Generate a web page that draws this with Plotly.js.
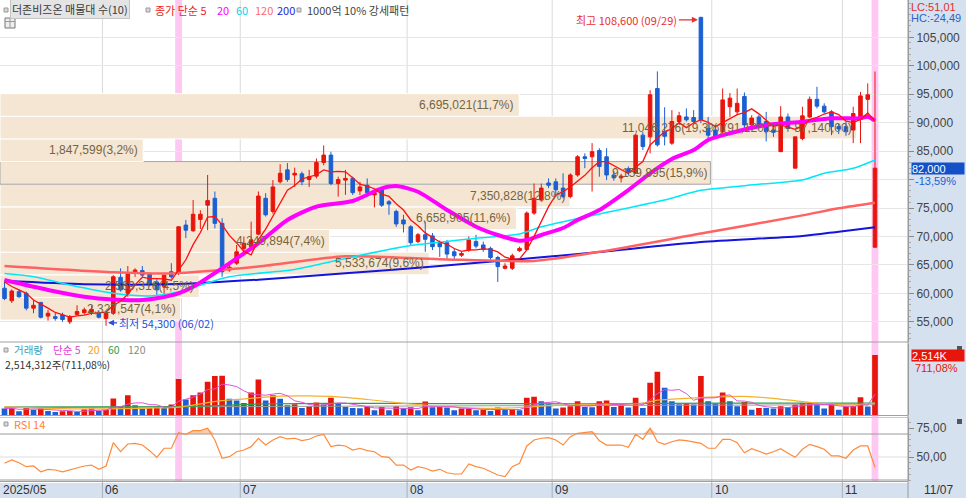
<!DOCTYPE html>
<html><head><meta charset="utf-8">
<script src="https://cdn.plot.ly/plotly-3.0.1.min.js"></script>
<style>html,body{margin:0;padding:0;background:#fff;}#chart{width:966px;height:498px;}</style>
</head><body><div id="chart"></div>
<script>
// ---------- DATA ----------
const dates = [
"05/13","05/14","05/15","05/16","05/19","05/20","05/21","05/22","05/23","05/26","05/27","05/28","05/29","05/30",
"06/02","06/04","06/05","06/09","06/10","06/11","06/12","06/13","06/16","06/17","06/18","06/19","06/20","06/23","06/24","06/25","06/26","06/27","06/30",
"07/01","07/02","07/03","07/04","07/07","07/08","07/09","07/10","07/11","07/14","07/15","07/16","07/17","07/18","07/21","07/22","07/23","07/24","07/25","07/28","07/29","07/30","07/31",
"08/01","08/04","08/05","08/06","08/07","08/08","08/11","08/12","08/13","08/14","08/18","08/19","08/20","08/21","08/22","08/25","08/26","08/27","08/28","08/29",
"09/01","09/02","09/03","09/04","09/05","09/08","09/09","09/10","09/11","09/12","09/15","09/16","09/17","09/18","09/19","09/22","09/23","09/24","09/25","09/26","09/29","09/30",
"10/01","10/02","10/10","10/13","10/14","10/15","10/16","10/17","10/20","10/21","10/22","10/23","10/24","10/27","10/28","10/29","10/30","10/31",
"11/03","11/04","11/05","11/06","11/07"];

const openP = [60900,58700,60300,60000,57400,58400,56000,55900,56200,55000,
56300,56600,56700,56500,55600,56500,62800,60000,63500,64000,
63400,62000,61200,63800,63500,72000,71000,73000,75500,76700,
72300,64100,65300,67900,68200,70400,76700,74400,79600,81700,
80800,81000,80000,80600,83000,84300,79300,79900,80200,78000,
79000,77300,78200,76100,74400,72900,71700,69100,70300,70100,
68800,68900,67300,66700,67600,69100,68500,67900,66300,64400,
64400,67500,67700,74100,76400,79400,79600,78500,77000,80800,
84000,84000,85100,84000,80800,80300,81900,81100,87800,87500,
96000,88400,86400,90200,91000,90900,108500,89000,88700,88400,
92800,91900,94600,89600,91000,90200,88700,84900,91000,82000,
87200,91000,94100,92900,91900,89300,89300,88700,91000,94100,
68100];
const highP = [62000,60700,60700,60300,58800,58500,57100,56600,56600,56200,
57900,57500,57900,57000,56600,63200,64400,64800,64400,64800,
63600,62500,63500,65300,71800,72900,76400,74600,80800,77900,
73200,65300,68500,70000,72600,77900,77600,79900,82700,82900,
82100,81400,81700,83700,86000,84900,80500,81700,80500,79600,
80200,78200,78500,76400,74700,73800,72000,70600,72600,70600,
69300,69400,67900,67300,70000,70300,69100,68200,66600,65300,
67000,68200,74400,79300,79300,80200,80200,81100,81100,84300,
84600,86400,85500,85500,81500,81000,82300,88100,88400,95700,
99000,92700,92200,91900,92500,92200,108600,91000,89600,96000,
95200,96000,95300,91300,91400,91900,89500,92900,91600,87500,
92800,94600,96300,93400,92200,89800,90200,92800,95400,96900,
99000];
const lowP = [58800,58300,59200,57000,56500,55600,55200,55200,55000,54600,
56100,56300,56200,55600,54300,56200,60300,59400,62900,62900,
61200,59400,59700,62600,63200,69700,70800,71300,71100,71400,
62900,63800,65000,67300,67600,70200,73500,74000,79300,79600,
78700,79000,78700,80200,82500,79000,77000,77300,77300,77300,
77000,75100,75200,73800,71700,70700,68500,68800,67300,67600,
66400,66100,65900,66400,67300,67900,67300,65900,62000,64200,
64100,67300,67600,73800,76100,78500,77000,76700,76700,80500,
82000,77900,80500,79900,79800,79500,80700,81100,85200,84600,
85800,86000,86100,89900,90200,89900,89900,87200,87200,88100,
91000,91300,89000,89000,89000,86700,87500,84900,88400,82000,
86900,90800,92500,91600,87800,88000,87700,86400,86400,91000,
68100];
const closeP = [59100,60400,59400,57400,57900,55800,56500,55600,55400,55900,
56800,57100,57200,55800,56500,62900,60600,63400,64100,63200,
61600,60600,63200,62900,71700,71100,73900,73900,76300,72300,
63800,64600,67300,68800,69400,77100,73800,78700,81100,80000,
81100,79600,80500,83000,84300,79300,80000,80200,77700,78700,
77700,77600,75500,75700,72200,72200,68900,70300,69500,68200,
68200,66900,66600,67000,69400,68300,67700,66300,64700,64800,
66600,67900,74100,76700,78500,79000,78200,77000,80800,84000,
83700,84900,82300,80800,80300,80600,81300,87800,85800,94900,
86100,87600,90200,91200,90500,90200,90500,87800,87500,94000,
94300,93400,89600,90800,89600,88400,88300,91000,89000,87500,
91200,94100,92900,91900,89300,88900,88400,91600,94700,94900,
82000];
const volume = [268000,296000,155000,296000,225000,268000,169000,127000,155000,169000,
127000,239000,268000,183000,225000,690000,366000,831000,408000,268000,
296000,338000,310000,436000,1507000,648000,831000,943000,1394000,1633000,
1647000,676000,605000,507000,943000,1492000,605000,831000,676000,408000,
451000,296000,366000,521000,436000,718000,479000,338000,296000,282000,
366000,197000,338000,197000,366000,282000,324000,197000,563000,324000,
338000,310000,197000,268000,282000,197000,225000,169000,310000,225000,
239000,197000,718000,760000,577000,451000,268000,310000,366000,577000,
338000,324000,577000,605000,338000,479000,310000,718000,296000,1352000,
1816000,1140000,577000,451000,479000,436000,1633000,577000,479000,943000,
577000,366000,549000,225000,296000,290000,268000,366000,338000,436000,
507000,521000,465000,268000,436000,225000,366000,380000,746000,353590,
2514312];
const rsi = [44.5,47.4,45,41.6,42.2,37.2,39.3,38.7,37,38.7,
40.2,42.2,43,39.3,42.2,62.4,54.6,61.3,61.9,60.4,
55.5,49.7,57.6,57.6,71.1,69.7,72.9,72.9,75,64.8,
48.9,50.3,54.6,56.1,59,66.3,60.4,64.8,67.7,65.7,
66.3,64.2,65.4,68.3,69.7,59,60.4,59.6,56.1,57.6,
55.5,54.6,50.3,49.7,43,43,38.7,41.6,40.2,37.8,
39.3,36.3,35.2,35.2,43.9,41.6,40.2,37.2,34.3,32.9,
41.6,44.5,59.6,64.8,66.3,66.8,64.8,60.4,67.7,70.6,
71.1,72,64.2,60.4,60.4,60.4,58.4,69.7,65.4,75,
63.3,61,63.3,64.8,64.2,63.3,61.9,57.6,57.6,65.4,
65.4,62.4,53.7,57.2,54.6,52.6,54.6,57.2,53.2,49.7,
56.7,61,59,56.7,50.9,50.9,48.9,56.1,59.6,59.6,
41];

const ma5Head = [62000,61200,60600,60000];
const ma20Idx = [0,6,11,15,19,21,24,26,31,35,39,43,48,52,54,57,61,65,68,71,72,74,77,79,82,86,89,92,95,97,100,105,110,114,118,119,120];
const ma20Val = [62350,60600,59410,58920,58830,59130,60010,61170,65280,68800,72890,75230,76230,78460,78870,77860,74650,71710,70250,69250,69370,70250,71480,72890,74650,78160,81100,83610,85190,86950,88130,89590,90170,90760,90760,91050,90340];
const ma60Idx = [0,4,9,15,20,24,31,40,46,55,65,71,74,82,91,96,104,110,113,117,120];
const ma60Val = [63500,62930,61470,60010,59540,60290,62900,64200,65860,68200,69670,70430,71710,73950,76400,78100,79160,79920,81100,81970,83440];
const ma120Idx = [0,15,23,35,47,60,73,82,96,110,115,120];
const ma120Val = [64800,63700,63500,64700,66500,66000,65700,67300,70500,73700,74950,75930];
const ma200Idx = [0,11,24,35,47,60,74,82,96,110,115,120];
const ma200Val = [62200,61600,61640,62400,63520,64800,66330,67270,69020,70080,70840,71610];
const vma20Idx = [0,8,14,20,24,28,30,34,38,42,46,50,54,57,60,64,68,72,76,80,84,88,90,94,98,102,106,110,114,117,120];
const vma20Val = [340,270,255,290,330,520,600,700,790,800,760,650,520,440,360,300,280,330,400,430,450,500,620,700,760,780,700,560,450,420,500];
const vma60Idx = [0,20,28,35,45,60,80,100,120];
const vma60Val = [330,340,380,460,490,480,470,500,500];
const vma120Idx = [0,60,120];
const vma120Val = [320,380,430];

// volume-by-price bands (bottom to top)
const bandLow = 55300, bandStep = 3980;
const bandVol = [2327547,2569316,5533674,4249894,6658905,7350828,9159895,1847599,11046276,6695021];
const bandPct = ["4,1","4,5","9,6","7,4","11,6","12,8","15,9","3,2","19,3","11,7"];
const highlightDates = ["06/18","11/07"];

// ---------- BUILD ----------
const N = closeP.length;
const X = closeP.map((_, i) => i);
const xMin = -0.62, xMax = 124.55;
const fmt = n => Math.round(n).toLocaleString('en-US');
const dec = v => v.toFixed(2).replace('.', ',');
const PX = 908, PY = 482;
const px = xp => xp / PX;
const py = yp => (PY - yp) / PY;

const ma5 = closeP.map((c, i) => i < 4 ? ma5Head[i] : closeP.slice(i-4, i+1).reduce((a,b)=>a+b,0)/5);
const vma5 = volume.map((v, i) => { const s = volume.slice(Math.max(0,i-4), i+1); return s.reduce((a,b)=>a+b,0)/s.length; });
const volColor = volume.map((v, i) => (i > 0 && v > volume[i-1]) ? '#e8150c' : '#1b5fd2');

const RED = '#e8150c', BLUE = '#1b5fd2';
const NARROW = 'Liberation Sans Narrow, Liberation Sans, Arial';
const KR = 'Noto Sans CJK KR, Noto Sans, sans-serif';

const line = (xs, ys, color, width, yaxis, shape) => ({
  type:'scatter', mode:'lines', x:xs, y:ys, yaxis:yaxis||'y', hoverinfo:'skip',
  line:{color:color, width:width, shape:shape||'spline', smoothing:0.7}
});

const traces = [
  line(ma200Idx, ma200Val, '#1414dc', 2),
  line(ma120Idx, ma120Val, '#ff6262', 2.5),
  line(ma60Idx, ma60Val, '#00e8f8', 1.5),
  line(ma20Idx, ma20Val, '#ff00ff', 4),
  line(X, ma5, '#ff1010', 1.3, 'y', 'linear'),
  {type:'candlestick', x:X, open:openP, high:highP, low:lowP, close:closeP, xaxis:'x', yaxis:'y',
   increasing:{line:{color:RED, width:1}, fillcolor:RED},
   decreasing:{line:{color:BLUE, width:1}, fillcolor:BLUE},
   whiskerwidth:0, hoverinfo:'skip'},
  {type:'bar', x:X, y:volume, yaxis:'y2', marker:{color:volColor, line:{width:0}}, width:0.78, hoverinfo:'skip'},
  line(vma120Idx, vma120Val.map(v=>v*1000), '#999999', 1, 'y2'),
  line(vma60Idx, vma60Val.map(v=>v*1000), '#2ca04c', 1.2, 'y2'),
  line(vma20Idx, vma20Val.map(v=>v*1000), '#f5b030', 1.2, 'y2'),
  line(X, vma5, '#e050d8', 1, 'y2', 'linear'),
  {type:'scatter', mode:'lines', x:X, y:X.map(()=>70), yaxis:'y3', line:{width:0}, hoverinfo:'skip'},
  {type:'scatter', mode:'lines', x:X, y:rsi.map(v=>Math.max(v,70)), yaxis:'y3', fill:'tonexty', fillcolor:'rgba(255,140,60,0.45)', line:{width:0}, hoverinfo:'skip'},
  {type:'scatter', mode:'lines', x:X, y:rsi, yaxis:'y3', line:{color:'#ff8a3c', width:1.2}, hoverinfo:'skip'}
];

const shapes = [];
shapes.push({type:'rect', xref:'paper', yref:'paper', x0:1, x1:1+58/PX, y0:-16/PY, y1:1, fillcolor:'#d5e1ef', line:{width:0}, layer:'below'});
shapes.push({type:'rect', xref:'paper', yref:'paper', x0:0, x1:1, y0:-16/PY, y1:-1/PY, fillcolor:'#d5e1ef', line:{width:0}, layer:'below'});
highlightDates.forEach(d => { const i = dates.indexOf(d);
  shapes.push({type:'rect', xref:'x', yref:'paper', x0:i-0.47, x1:i+0.47, y0:0, y1:1, fillcolor:'#ffc8f2', line:{width:0}, layer:'below'}); });
const monthStarts = [];
dates.forEach((d, i) => { if (i === 0 || d.slice(0,2) !== dates[i-1].slice(0,2)) monthStarts.push(i); });
monthStarts.slice(1).forEach(i => {
  shapes.push({type:'line', xref:'x', yref:'paper', x0:i-0.5, x1:i-0.5, y0:0, y1:1, line:{color:'#dadada', width:1}, layer:'below'});
  shapes.push({type:'line', xref:'x', yref:'paper', x0:i-0.5, x1:i-0.5, y0:-16/PY, y1:0, line:{color:'#a8b0b8', width:1}, layer:'above'});
});
const maxBand = Math.max(...bandVol);
const lastClose = closeP[N-1];
const annotations = [];
bandVol.forEach((v, k) => {
  const y0 = bandLow + k*bandStep, y1 = y0 + bandStep;
  const x1 = xMin + v/maxBand*118.1;
  const cur = lastClose >= y0 && lastClose < y1;
  shapes.push({type:'rect', xref:'x', yref:'y', x0:xMin, x1:x1, y0:y0, y1:y1, fillcolor:'#f5e6d3',
    line:{color: cur ? '#a5a5a5' : '#ffffff', width:1}, layer:'between'});
  let txt = fmt(v) + '(' + bandPct[k] + '%)';
  if (v === maxBand) txt += '(' + fmt(y1) + ',00 ~ ' + fmt(y0) + ',00)';
  annotations.push({xref:'x', yref:'y', x:x1, y:(y0+y1)/2, xanchor:'right', yanchor:'middle', xshift: cur ? -1 : -3,
    text:txt, showarrow:false, font:{family:'Liberation Sans, Arial', size:12, color:'#76643e'}});
});
[[342,'#a0a0a0'],[415.5,'#a0a0a0'],[417.5,'#c8c8c8'],[481.5,'#a0a0a0']].forEach(([yp,c]) =>
  shapes.push({type:'line', xref:'paper', yref:'paper', x0:0, x1:1, y0:py(yp), y1:py(yp), line:{color:c, width:1}, layer:'above'}));
shapes.push({type:'line', xref:'paper', yref:'paper', x0:1, x1:1, y0:-16/PY, y1:1, line:{color:'#9a9a9a', width:1}, layer:'above'});
shapes.push({type:'line', xref:'paper', yref:'y3', x0:0, x1:1, y0:50, y1:50, line:{color:'#dddddd', width:1}, layer:'below'});
[70,30].forEach(v => shapes.push({type:'line', xref:'paper', yref:'y3', x0:0, x1:1, y0:v, y1:v, line:{color:'#9a9a9a', width:1}, layer:'below'}));
const sq = (xp, yp, fill) => shapes.push({type:'rect', xref:'paper', yref:'paper', x0:px(xp), x1:px(xp+4), y0:py(yp+2), y1:py(yp-2), fillcolor:fill||'#d8d8d8', line:{color:'#9a9a9a', width:1}, layer:'above'});
sq(4,10); sq(146,10); sq(297,10); sq(4,350); sq(4,424);
shapes.push({type:'rect', xref:'paper', yref:'paper', x0:px(5), x1:px(15), y0:py(28), y1:py(18), fillcolor:'#eeeeee', line:{color:'#777', width:1}, layer:'above'});
shapes.push({type:'line', xref:'paper', yref:'paper', x0:px(5), x1:px(15), y0:py(21.5), y1:py(21.5), line:{color:'#999', width:1}});
shapes.push({type:'line', xref:'paper', yref:'paper', x0:px(10), x1:px(10), y0:py(28), y1:py(18), line:{color:'#999', width:1}});
[[957,348],[957,421]].forEach(([xp,yp]) => shapes.push({type:'rect', xref:'paper', yref:'paper', x0:px(xp), x1:px(xp+5), y0:py(yp+3), y1:py(yp-2), fillcolor:'#555', line:{width:0}, layer:'above'}));

const ann = (xp, yp, text, color, size, family, extra) => annotations.push(Object.assign({xref:'paper', yref:'paper', x:px(xp), y:py(yp), xanchor:'left', yanchor:'middle', text:text, showarrow:false, font:{family:family||KR, size:size||11, color:color}}, extra||{}));
ann(10, 9, '더존비즈온 매물대 수(10)', '#3a3a3a', 11, KR, {bgcolor:'#e4e4e4', bordercolor:'#c4c4c4', borderwidth:1, borderpad:1});
ann(153, 10, '종가 단순 5', '#f01c1c');
ann(215, 10, '20', '#ff00ff');
ann(234, 10, '60', '#00d8ea');
ann(253, 10, '120', '#ff6a6a');
ann(275, 10, '200', '#2424e0');
ann(305, 10, '1000억 10% 강세패턴', '#444444');
ann(12, 349.5, '거래량', '#3aa0b8', 10.5);
ann(51, 349.5, '단순 5', '#e040d0', 10.5);
ann(86, 349.5, '20', '#f0a020', 10.5);
ann(106, 349.5, '60', '#2ca04c', 10.5);
ann(126, 349.5, '120', '#8a8a8a', 10.5);
ann(3, 364.5, '2,514,312주(711,08%)', '#333333', 10.5);
ann(12, 424, 'RSI 14', '#ff8030');

const minLow = Math.min(...lowP), maxHigh = Math.max(...highP);
const iLow = lowP.indexOf(minLow), iHigh = highP.indexOf(maxHigh);
const prevClose = closeP[N-2];
ann(909, 7, 'LC:' + dec((lastClose/minLow - 1)*100), '#e03030', 11, NARROW);
ann(909, 18, 'HC:' + dec((lastClose/maxHigh - 1)*100), '#2a62c8', 11, NARROW);
annotations.push({xref:'paper', yref:'y', x:1+3/PX, y:lastClose, xanchor:'left', yanchor:'middle', text:fmt(lastClose), showarrow:false,
  bgcolor:'#1450c8', width:52, height:11, align:'left', borderpad:0, font:{family:NARROW, size:11, color:'#ffffff'}});
annotations.push({xref:'paper', yref:'y', x:1+5/PX, y:lastClose, yshift:-13, xanchor:'left', yanchor:'middle', showarrow:false,
  text:dec((lastClose/prevClose - 1)*100) + '%', font:{family:NARROW, size:11, color:'#1a5fd0'}});
const lastVol = volume[N-1], prevVol = volume[N-2];
annotations.push({xref:'paper', yref:'y2', x:1+3/PX, y:lastVol, xanchor:'left', yanchor:'middle', text:fmt(lastVol/1000)+'K', showarrow:false,
  bgcolor:'#e8150c', width:52, height:11, align:'left', borderpad:0, font:{family:NARROW, size:11, color:'#ffffff'}});
annotations.push({xref:'paper', yref:'y2', x:1+5/PX, y:lastVol, yshift:-13, xanchor:'left', yanchor:'middle', showarrow:false,
  text:dec(lastVol/prevVol*100) + '%', font:{family:NARROW, size:11, color:'#e8150c'}});
annotations.push({xref:'x', yref:'y', x:iHigh, y:maxHigh, yshift:-3, text:'최고 ' + fmt(maxHigh) + ' (' + dates[iHigh] + ')',
  showarrow:true, ax:-74, ay:0, arrowhead:2, arrowsize:1, arrowwidth:1.2, arrowcolor:'#e83030', standoff:3,
  font:{family:KR, size:11, color:'#e83030'}});
annotations.push({xref:'x', yref:'y', x:iLow, y:minLow, yshift:3, text:'최저 ' + fmt(minLow) + ' (' + dates[iLow] + ')',
  showarrow:true, ax:60, ay:0, arrowhead:2, arrowsize:1, arrowwidth:1.2, arrowcolor:'#2a4fd8', standoff:2,
  font:{family:KR, size:11, color:'#2a4fd8'}});
monthStarts.forEach((i, k) => annotations.push({xref:'x', yref:'paper', x: k === 0 ? xMin : i-0.5, y:py(490), xanchor:'left', yanchor:'middle', xshift:1,
  text: k === 0 ? '2025/' + dates[i].slice(0,2) : dates[i].slice(0,2), showarrow:false, font:{family:NARROW, size:12, color:'#333'}}));
ann(922, 490, dates[N-1], '#333333', 12, NARROW);

const priceTicks = [55000,60000,65000,70000,75000,80000,85000,90000,95000,100000,105000];
const layout = {
  width:966, height:498, margin:{l:0, r:58, t:0, b:16, pad:0},
  paper_bgcolor:'#ffffff', plot_bgcolor:'#ffffff', showlegend:false, hovermode:false, dragmode:false,
  font:{family:KR, size:11, color:'#333'},
  xaxis:{range:[xMin,xMax], showgrid:false, zeroline:false, showticklabels:false, ticks:'', showline:false,
         rangeslider:{visible:false}, fixedrange:true, anchor:'y3'},
  yaxis:{domain:[py(341.5), 1], range:[51537, 111555], side:'right', anchor:'x',
         tickmode:'array', tickvals:priceTicks, ticktext:priceTicks.map(v => v === 80000 ? '' : fmt(v)),
         ticks:'outside', ticklen:5, tickcolor:'#888', tickfont:{family:NARROW, size:12, color:'#444'},
         showgrid:true, gridcolor:'#e6e6e6', zeroline:false, showline:true, linecolor:'#9a9a9a', fixedrange:true,
         minor:{tickmode:'linear', tick0:0, dtick:1000, ticks:'outside', ticklen:2, tickcolor:'#aaa', showgrid:false}},
  yaxis2:{domain:[py(415), py(343.5)], range:[0, 2996000], side:'right', anchor:'x', showticklabels:false, ticks:'',
          showgrid:false, zeroline:false, showline:true, linecolor:'#9a9a9a', fixedrange:true},
  yaxis3:{domain:[py(481), py(417.5)], range:[29.13, 84.35], side:'right', anchor:'x',
          tickmode:'array', tickvals:[50,75], ticktext:['50,00','75,00'], ticks:'outside', ticklen:5, tickcolor:'#888',
          tickfont:{family:NARROW, size:12, color:'#444'}, showgrid:false, zeroline:false, showline:true, linecolor:'#9a9a9a', fixedrange:true,
          minor:{tickmode:'linear', tick0:0, dtick:5, ticks:'outside', ticklen:2, tickcolor:'#aaa', showgrid:false}},
  shapes:shapes, annotations:annotations
};
Plotly.newPlot('chart', traces, layout, {staticPlot:true, displayModeBar:false});
</script></body></html>
